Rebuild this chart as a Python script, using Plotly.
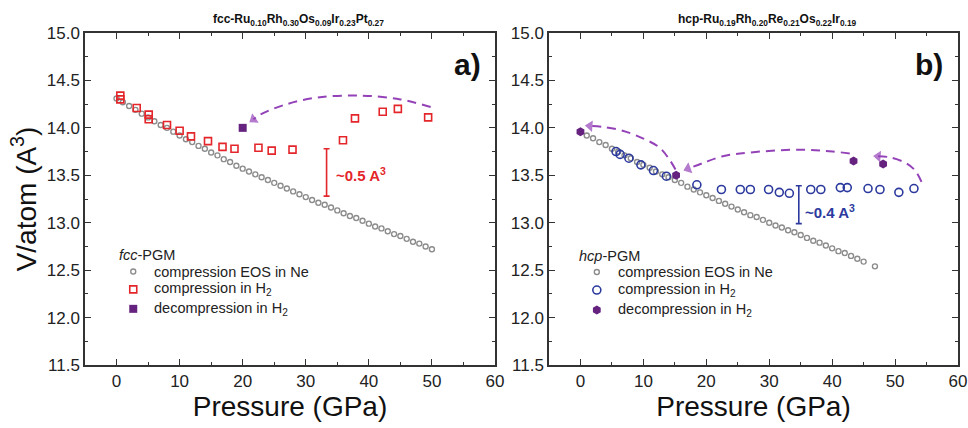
import plotly.graph_objects as go

# ---------------- data ----------------
# fcc-Ru0.10Rh0.30Os0.09Ir0.23Pt0.27
fcc_eos_p = list(range(0, 51))
fcc_eos_v = [14.31, 14.27, 14.23, 14.19, 14.15, 14.11, 14.07, 14.03, 14.00, 13.96,
             13.92, 13.88, 13.85, 13.81, 13.78, 13.74, 13.71, 13.67, 13.64, 13.60,
             13.57, 13.54, 13.51, 13.48, 13.45, 13.42, 13.39, 13.36, 13.33, 13.30,
             13.27, 13.24, 13.21, 13.19, 13.16, 13.13, 13.10, 13.07, 13.05, 13.02,
             12.99, 12.96, 12.94, 12.91, 12.88, 12.86, 12.83, 12.80, 12.78, 12.75,
             12.72]
fcc_h2_p = [0.6, 0.6, 3.2, 5.1, 5.1, 8.0, 10.0, 11.8, 14.5, 16.8, 18.7, 22.5, 24.6, 27.9,
            35.9, 37.8, 42.2, 44.6, 49.4]
fcc_h2_v = [14.34, 14.30, 14.21, 14.14, 14.09, 14.03, 13.97, 13.91, 13.86, 13.80, 13.78,
            13.79, 13.76, 13.77, 13.87, 14.10, 14.17, 14.20, 14.11]
fcc_dec_p = [20.0]
fcc_dec_v = [14.00]
fcc_path_p = [49.8, 45.0, 38.7, 31.8, 26.5, 22.8, 21.7]
fcc_path_v = [14.22, 14.30, 14.34, 14.32, 14.24, 14.14, 14.09]
fcc_gap_p, fcc_gap_low, fcc_gap = 33.3, 13.28, 0.5

# hcp-Ru0.19Rh0.20Re0.21Os0.22Ir0.19
hcp_eos_p = list(range(0, 46)) + [46.8]
hcp_eos_v = [13.96, 13.92, 13.89, 13.85, 13.82, 13.78, 13.75, 13.71, 13.68, 13.64,
             13.61, 13.58, 13.54, 13.51, 13.48, 13.45, 13.42, 13.38, 13.35, 13.32,
             13.29, 13.26, 13.23, 13.20, 13.17, 13.14, 13.11, 13.08, 13.06, 13.03,
             13.00, 12.97, 12.95, 12.92, 12.90, 12.87, 12.84, 12.81, 12.79, 12.76,
             12.73, 12.70, 12.68, 12.65, 12.62, 12.59, 12.54]
hcp_h2_p = [5.65, 6.3, 7.7, 9.6, 11.6, 13.65, 18.5, 22.4, 25.4, 27.0, 29.9, 31.6, 33.2,
            36.6, 38.2, 41.3, 42.4, 45.7, 47.6, 50.6, 53.0]
hcp_h2_v = [13.75, 13.72, 13.68, 13.61, 13.55, 13.49, 13.40, 13.35, 13.35, 13.35, 13.35,
            13.32, 13.31, 13.35, 13.35, 13.37, 13.37, 13.36, 13.35, 13.32, 13.36]
hcp_dec_p = [0.0, 15.2, 43.4, 48.1]
hcp_dec_v = [13.96, 13.50, 13.65, 13.62]
hcp_path1_p = [54.2, 53.2, 51.7, 49.1, 47.3]
hcp_path1_v = [13.43, 13.55, 13.63, 13.69, 13.70]
hcp_path2_p = [42.8, 40.1, 34.9, 26.9, 22.6, 19.5, 17.1]
hcp_path2_v = [13.73, 13.75, 13.77, 13.74, 13.70, 13.63, 13.57]
hcp_path3_p = [15.1, 14.2, 12.6, 9.9, 6.7, 3.6, 1.5]
hcp_path3_v = [13.56, 13.66, 13.79, 13.89, 13.97, 14.01, 14.02]
hcp_gap_p, hcp_gap_low, hcp_gap = 34.7, 12.99, 0.4

# legend entries
key_labels = ["compression EOS in Ne", "compression in H<sub>2</sub>", "decompression in H<sub>2</sub>"]
fcc_key_title = "<i>fcc</i>-PGM"
hcp_key_title = "<i>hcp</i>-PGM"

# ---------------- style ----------------
FONT = "Liberation Sans, Arial, sans-serif"
NARROW = "Liberation Sans Narrow, Liberation Sans, Arial, sans-serif"
GRAY = "#8c8c8c"
RED = "#e4262b"
BLUE = "#2c3a9e"
PURPLE = "#65237f"
DASH = "#9442b8"

W, H = 968, 428
XA = (85 / W, 495 / W)
XB = (549 / W, 958 / W)
YD = (1 - 365 / H, 1 - 33 / H)

EOS_MK = dict(symbol="circle-open", size=5, color=GRAY, line=dict(width=1.4, color=GRAY))
SQ_MK = dict(symbol="square-open", size=7, color=RED, line=dict(width=1.6, color=RED))
SQF_MK = dict(symbol="square", size=8, color=PURPLE, line=dict(width=0))
CI_MK = dict(symbol="circle-open", size=8, color=BLUE, line=dict(width=1.6, color=BLUE))
HEX_MK = dict(symbol="hexagon", size=9, color=PURPLE, line=dict(width=0))

fig = go.Figure()


def points(p, v, xa, ya, name, marker):
    fig.add_trace(go.Scatter(x=p, y=v, xaxis=xa, yaxis=ya, mode="markers", name=name,
                             showlegend=False, marker=marker))


def arrow(p, v, xa, ya):
    n = len(p)
    fig.add_trace(go.Scatter(
        x=p, y=v, xaxis=xa, yaxis=ya, mode="lines+markers", showlegend=False,
        hoverinfo="skip",
        line=dict(color=DASH, width=2, dash="9px,6px", shape="spline", smoothing=1.0),
        marker=dict(symbol="triangle-up", size=[0] * (n - 1) + [10], color=DASH,
                    angleref="previous", line=dict(width=0))))


def gap_bar(p, low, d, xa, ya, color):
    fig.add_trace(go.Scatter(
        x=[p], y=[low + d / 2], xaxis=xa, yaxis=ya, mode="markers", showlegend=False,
        hoverinfo="skip", marker=dict(size=1, color="rgba(0,0,0,0)"),
        error_y=dict(type="constant", value=d / 2, color=color, thickness=1.6, width=3)))


def key(xa, ya, title, markers, x_title, x_mark, x_text, y_title, y_rows):
    """Legend block placed inside the panel, in its data coordinates."""
    ax = xa.replace("x", "x") if xa != "x" else "x"
    fig.add_annotation(x=x_title, y=y_title, xref=xa, yref=ya, text=title, showarrow=False,
                       xanchor="left", yanchor="middle", font=dict(family=FONT, size=14.5, color="#222"))
    for mk, label, yy in zip(markers, key_labels, y_rows):
        fig.add_trace(go.Scatter(x=[x_mark], y=[yy], xaxis=xa, yaxis=ya, mode="markers",
                                 showlegend=False, hoverinfo="skip", marker=mk))
        fig.add_annotation(x=x_text, y=yy, xref=xa, yref=ya, text=label, showarrow=False,
                           xanchor="left", yanchor="middle",
                           font=dict(family=FONT, size=14.5, color="#222"))


# panel a
points(fcc_eos_p, fcc_eos_v, "x", "y", "compression EOS in Ne", EOS_MK)
points(fcc_h2_p, fcc_h2_v, "x", "y", "compression in H2", SQ_MK)
points(fcc_dec_p, fcc_dec_v, "x", "y", "decompression in H2", SQF_MK)
arrow(fcc_path_p, fcc_path_v, "x", "y")
gap_bar(fcc_gap_p, fcc_gap_low, fcc_gap, "x", "y", RED)
key("x", "y", fcc_key_title, [EOS_MK, SQ_MK, SQF_MK], 0.13, 2.65, 5.6, 12.66,
    [12.485, 12.297, 12.092])

# panel b
points(hcp_eos_p, hcp_eos_v, "x2", "y2", "compression EOS in Ne", EOS_MK)
points(hcp_h2_p, hcp_h2_v, "x2", "y2", "compression in H2", CI_MK)
points(hcp_dec_p, hcp_dec_v, "x2", "y2", "decompression in H2", HEX_MK)
for pp, vv in [(hcp_path1_p, hcp_path1_v), (hcp_path2_p, hcp_path2_v), (hcp_path3_p, hcp_path3_v)]:
    arrow(pp, vv, "x2", "y2")
gap_bar(hcp_gap_p, hcp_gap_low, hcp_gap, "x2", "y2", BLUE)
key("x2", "y2", hcp_key_title, [EOS_MK, CI_MK, HEX_MK], -0.6, 2.6, 5.7, 12.65,
    [12.48, 12.29, 12.08])

# ---------------- axes ----------------
xcommon = dict(range=[-5, 60], dtick=10, tick0=0, ticks="inside", ticklen=6, tickwidth=1.4,
               tickcolor="#333", showline=True, linewidth=1.5, linecolor="#333", mirror="ticks",
               showgrid=False, zeroline=False, automargin=False,
               tickfont=dict(family=FONT, size=17, color="#222"),
               minor=dict(dtick=5, ticks="inside", ticklen=3, tickwidth=1.2, tickcolor="#333"),
               title=dict(text="Pressure (GPa)", font=dict(family=FONT, size=28, color="#111"),
                          standoff=6))
ycommon = dict(range=[11.5, 15.0], dtick=0.5, tick0=11.5, tickformat=".1f", ticks="inside",
               ticklen=6, tickwidth=1.4, tickcolor="#333", showline=True, linewidth=1.5,
               linecolor="#333", mirror="ticks", showgrid=False, zeroline=False, automargin=False,
               tickfont=dict(family=FONT, size=17, color="#222"),
               minor=dict(dtick=0.25, ticks="inside", ticklen=3, tickwidth=1.2, tickcolor="#333"))

fig.update_layout(
    width=W, height=H, margin=dict(l=0, r=0, t=0, b=0, autoexpand=False),
    paper_bgcolor="white", plot_bgcolor="white",
    font=dict(family=FONT, color="#111"),
    showlegend=False,
    xaxis=dict(domain=XA, anchor="y", **xcommon),
    yaxis=dict(domain=YD, anchor="x", **ycommon,
               title=dict(text="V/atom (A<sup>3</sup>)", font=dict(family=FONT, size=28, color="#111"),
                          standoff=2)),
    xaxis2=dict(domain=XB, anchor="y2", **xcommon),
    yaxis2=dict(domain=YD, anchor="x2", **ycommon),
)

# ---------------- text ----------------
TITLEFONT = dict(family=FONT, size=12, color="#111", weight="bold")
fig.add_annotation(x=298.5 / W, y=1 - 20 / H, xref="paper", yref="paper", showarrow=False,
                   xanchor="center", yanchor="middle",
                   text="fcc-Ru<sub>0.10</sub>Rh<sub>0.30</sub>Os<sub>0.09</sub>Ir<sub>0.23</sub>Pt<sub>0.27</sub>",
                   font=TITLEFONT)
fig.add_annotation(x=767.5 / W, y=1 - 20 / H, xref="paper", yref="paper", showarrow=False,
                   xanchor="center", yanchor="middle",
                   text="hcp-Ru<sub>0.19</sub>Rh<sub>0.20</sub>Re<sub>0.21</sub>Os<sub>0.22</sub>Ir<sub>0.19</sub>",
                   font=TITLEFONT)
fig.add_annotation(x=55.7, y=14.67, xref="x", yref="y", showarrow=False, text="a)",
                   font=dict(family=NARROW, size=30, color="#111", weight="bold"))
fig.add_annotation(x=55.4, y=14.67, xref="x2", yref="y2", showarrow=False, text="b)",
                   font=dict(family=NARROW, size=30, color="#111", weight="bold"))
fig.add_annotation(x=34.5, y=13.505, xref="x", yref="y", showarrow=False, xanchor="left",
                   text="~0.5 A<sup>3</sup>", font=dict(family=NARROW, size=15, color=RED, weight="bold"))
fig.add_annotation(x=35.3, y=13.115, xref="x2", yref="y2", showarrow=False, xanchor="left",
                   text="~0.4 A<sup>3</sup>", font=dict(family=NARROW, size=15, color=BLUE, weight="bold"))

fig.write_html("out.html")
